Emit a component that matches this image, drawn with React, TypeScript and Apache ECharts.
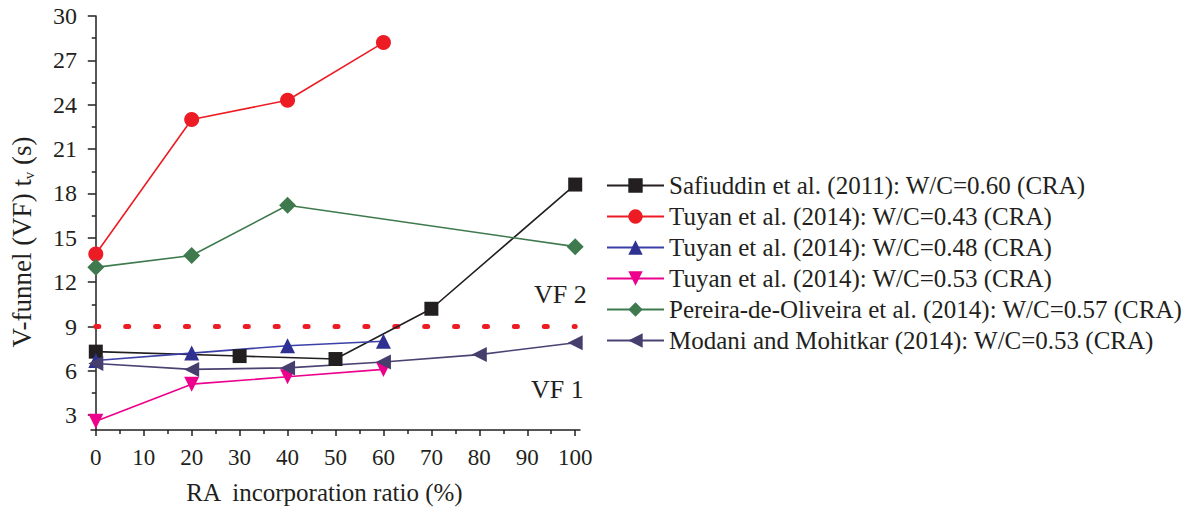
import React, { useEffect, useRef } from "react";
import * as echarts from "echarts";

const FONT = "'Liberation Serif', 'DejaVu Serif', serif";
const TEXT = "#231f20";

const seriesNames = [
  "Safiuddin et al. (2011): W/C=0.60 (CRA)",
  "Tuyan et al. (2014): W/C=0.43 (CRA)",
  "Tuyan et al. (2014): W/C=0.48 (CRA)",
  "Tuyan et al. (2014): W/C=0.53 (CRA)",
  "Pereira-de-Oliveira et al. (2014): W/C=0.57 (CRA)",
  "Modani and Mohitkar (2014): W/C=0.53 (CRA)",
];

const safiuddinX = [0, 30, 50, 70, 100];
const safiuddinY = [7.3, 7.0, 6.8, 10.2, 18.6];
const tuyan43X = [0, 20, 40, 60];
const tuyan43Y = [13.9, 23.0, 24.3, 28.2];
const tuyan48X = [0, 20, 40, 60];
const tuyan48Y = [6.7, 7.2, 7.7, 8.0];
const tuyan53X = [0, 20, 40, 60];
const tuyan53Y = [2.6, 5.1, 5.6, 6.1];
const pereiraX = [0, 20, 40, 100];
const pereiraY = [13.0, 13.8, 17.2, 14.4];
const modaniX = [0, 20, 40, 60, 80, 100];
const modaniY = [6.5, 6.1, 6.2, 6.6, 7.1, 7.9];

const thresholdX = [0, 100];
const thresholdY = [9, 9];

const xMajorTicks = [0, 10, 20, 30, 40, 50, 60, 70, 80, 90, 100];
const xMinorTicks = [5, 15, 25, 35, 45, 55, 65, 75, 85, 95];
const yMajorTicks = [3, 6, 9, 12, 15, 18, 21, 24, 27, 30];
const yMinorTicks = [4.5, 7.5, 10.5, 13.5, 16.5, 19.5, 22.5, 25.5, 28.5];

const zip = (xs: number[], ys: number[]) => xs.map((x, i) => [x, ys[i]]);

export default function App() {
  const ref = useRef<HTMLDivElement>(null);
  useEffect(() => {
    if (!ref.current) return;
    const chart = echarts.init(ref.current, null, { renderer: "svg" });

    const mk = (
      name: string,
      xs: number[],
      ys: number[],
      lineColor: string,
      markColor: string,
      symbol: string,
      size: number,
      rotate = 0
    ) => ({
      name,
      type: "line",
      data: zip(xs, ys),
      symbol,
      symbolSize: size,
      symbolRotate: rotate,
      lineStyle: { color: lineColor, width: 1.6 },
      itemStyle: { color: markColor, borderWidth: 0 },
      z: 3,
    });

    const axisLineStyle = { color: TEXT, width: 1.5 };

    chart.setOption({
      animation: false,
      backgroundColor: "#ffffff",
      grid: {
        left: 91,
        right: 618,
        top: 16,
        bottom: 78,
        containLabel: false,
        outerBoundsMode: "none",
      },
      legend: {
        orient: "vertical",
        left: 606,
        top: 173,
        padding: 0,
        itemWidth: 57,
        itemHeight: 18,
        itemGap: 6,
        textStyle: { fontFamily: FONT, fontSize: 25, color: TEXT },
        data: seriesNames,
      },
      xAxis: [
        {
          type: "value",
          min: -1,
          max: 101,
          name: "RA  incorporation ratio (%)",
          nameLocation: "middle",
          nameGap: 50,
          nameTextStyle: { fontFamily: FONT, fontSize: 25, color: TEXT, padding: [0, 22, 0, 0] },
          axisLine: { show: true, lineStyle: axisLineStyle },
          axisTick: { show: true, length: 6, customValues: xMajorTicks, lineStyle: axisLineStyle },
          axisLabel: { customValues: xMajorTicks, fontFamily: FONT, fontSize: 23, color: TEXT, margin: 16 },
          splitLine: { show: false },
        },
        {
          type: "value",
          min: -1,
          max: 101,
          position: "bottom",
          axisLine: { show: false },
          axisTick: { show: true, length: 4, customValues: xMinorTicks, lineStyle: axisLineStyle },
          axisLabel: { show: false },
          splitLine: { show: false },
        },
      ],
      yAxis: [
        {
          type: "value",
          min: 2,
          max: 30,
          axisLine: { show: true, lineStyle: axisLineStyle },
          axisTick: { show: true, length: 8, customValues: yMajorTicks, lineStyle: axisLineStyle },
          axisLabel: { customValues: yMajorTicks, fontFamily: FONT, fontSize: 24, color: TEXT, margin: 14 },
          splitLine: { show: false },
        },
        {
          type: "value",
          min: 2,
          max: 30,
          position: "left",
          axisLine: { show: false },
          axisTick: { show: true, length: 4, customValues: yMinorTicks, lineStyle: axisLineStyle },
          axisLabel: { show: false },
          splitLine: { show: false },
        },
      ],
      graphic: [
        {
          type: "text",
          x: 22,
          y: 242,
          rotation: Math.PI / 2,
          style: {
            text: "V-funnel (VF) t{sub|v} (s)",
            fontFamily: FONT,
            fontSize: 27,
            fill: TEXT,
            align: "center",
            verticalAlign: "middle",
            rich: {
              sub: { fontFamily: FONT, fontSize: 15, fill: TEXT, color: TEXT, verticalAlign: "bottom", padding: [13, 0, 0, 0] },
            },
          },
        },
        {
          type: "text",
          left: 534,
          top: 281,
          style: { text: "VF 2", fontFamily: FONT, fontSize: 26, fill: TEXT },
        },
        {
          type: "text",
          left: 531,
          top: 376,
          style: { text: "VF 1", fontFamily: FONT, fontSize: 26, fill: TEXT },
        },
      ],
      series: [
        {
          name: "threshold",
          type: "line",
          data: zip(thresholdX, thresholdY),
          symbol: "none",
          lineStyle: { color: "#ed1c24", width: 5, type: [3, 26.9], cap: "round" },
          z: 2,
          silent: true,
        },
        mk(seriesNames[0], safiuddinX, safiuddinY, "#231f20", "#231f20", "rect", 14),
        mk(seriesNames[1], tuyan43X, tuyan43Y, "#ed1c24", "#ed1c24", "circle", 15),
        mk(seriesNames[2], tuyan48X, tuyan48Y, "#3b40a8", "#2e3192", "triangle", 15),
        mk(seriesNames[3], tuyan53X, tuyan53Y, "#ec008c", "#ec008c", "triangle", 15, 180),
        mk(seriesNames[4], pereiraX, pereiraY, "#3f7a4e", "#3f7a4e", "diamond", 17),
        mk(seriesNames[5], modaniX, modaniY, "#4a4272", "#463f6e", "triangle", 15, 90),
      ],
    });
    return () => chart.dispose();
  }, []);
  return (
    <div
      ref={ref}
      style={{ position: "absolute", left: 0, top: 0, width: 1198, height: 508 }}
    />
  );
}
